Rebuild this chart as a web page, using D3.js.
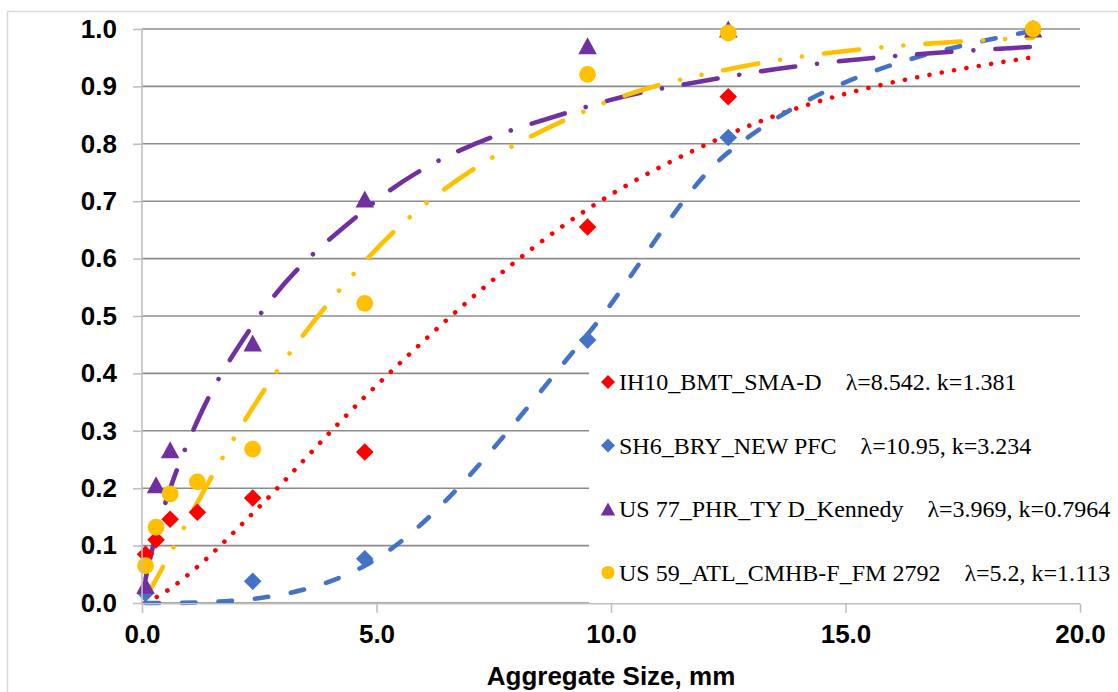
<!DOCTYPE html>
<html>
<head>
<meta charset="utf-8">
<script src="https://cdn.jsdelivr.net/npm/d3@7"></script>
<style>
  html, body { margin: 0; padding: 0; background: #fff; }
  svg { display: block; }
</style>
</head>
<body>
<svg id="chart" width="1118" height="692"></svg>
<script>
// ---------------- data ----------------
const sieves = [0.075, 0.3, 0.6, 1.18, 2.36, 4.75, 9.5, 12.5, 19];

// measured passing fractions (markers); null = no point plotted
const ih10 = [0.085, 0.110, 0.146, 0.158, 0.183, 0.263, 0.655, 0.882, 1.0];
const sh6  = [0.017, null, null, null, 0.038, 0.077, 0.458, 0.811, 1.0];
const us77 = [0.031, 0.206, 0.267, null, 0.453, 0.704, 0.971, 1.0, 1.0];
const us59 = [0.065, 0.132, 0.190, 0.211, 0.268, 0.522, 0.921, 0.993, 1.0];

// fitted (Weibull) curve values at the same sizes
const fitIh10 = [0.001, 0.010, 0.025, 0.063, 0.156, 0.359, 0.686, 0.816, 0.951];
const fitSh6  = [0.000, 0.000, 0.000, 0.001, 0.007, 0.065, 0.468, 0.785, 0.997];
const fitUs77 = [0.042, 0.120, 0.199, 0.317, 0.484, 0.685, 0.865, 0.917, 0.969];
const fitUs59 = [0.009, 0.041, 0.086, 0.175, 0.340, 0.595, 0.859, 0.930, 0.985];

const seriesNames = [
  "IH10_BMT_SMA-D",
  "SH6_BRY_NEW PFC",
  "US 77_PHR_TY D_Kennedy",
  "US 59_ATL_CMHB-F_FM 2792"
];
const seriesParams = [
  "λ=8.542. k=1.381",
  "λ=10.95, k=3.234",
  "λ=3.969, k=0.7964",
  "λ=5.2, k=1.113"
];
const xTicks = [0, 5, 10, 15, 20];
const yTicks = [0, 0.1, 0.2, 0.3, 0.4, 0.5, 0.6, 0.7, 0.8, 0.9, 1.0];
const xTitle = "Aggregate Size, mm";

// ---------------- styles ----------------
const colors = ["#ff0000", "#4472c4", "#7030a0", "#ffc000"];
const dashes = ["0.01 12.5", "13.5 23", "34.5 22 0.01 22", "35.5 22.25 0.01 22 0.01 22.25"];
const markerKinds = ["diamond", "diamond", "triangle", "circle"];

// ---------------- layout ----------------
const svg = d3.select("#chart");
const X0 = 142, X1 = 1080, Y0 = 603, Y1 = 29;
const x = d3.scaleLinear().domain([0, 20]).range([X0, X1]);
const y = d3.scaleLinear().domain([0, 1]).range([Y0, Y1]);

svg.append("rect").attr("width", 1118).attr("height", 692).attr("fill", "#fff");
// chart area border
svg.append("rect").attr("x", 7.5).attr("y", 11.5).attr("width", 1130).attr("height", 700)
  .attr("fill", "none").attr("stroke", "#d9d9d9").attr("stroke-width", 1.5);

// gridlines
svg.append("g").selectAll("line").data(yTicks).join("line")
  .attr("x1", X0).attr("x2", X1)
  .attr("y1", d => y(d)).attr("y2", d => y(d))
  .attr("stroke", "#8c8c8c").attr("stroke-width", 1.6);

// curves
const line = d3.line()
  .x(d => x(d[0])).y(d => y(d[1]))
  .curve(d3.curveMonotoneX);
const fits = [fitIh10, fitSh6, fitUs77, fitUs59];
fits.forEach((f, i) => {
  svg.append("path")
    .attr("d", line(sieves.map((s, j) => [s, f[j]])))
    .attr("fill", "none")
    .attr("stroke", colors[i])
    .attr("stroke-width", 4.6)
    .attr("stroke-linecap", "round")
    .attr("stroke-linejoin", "round")
    .attr("stroke-dasharray", dashes[i]);
});

// marker shapes
function triangleType(w, h) {
  return { draw(ctx) { ctx.moveTo(0, -h / 2); ctx.lineTo(w / 2, h / 2); ctx.lineTo(-w / 2, h / 2); ctx.closePath(); } };
}
function diamondType(r) {
  return { draw(ctx) { ctx.moveTo(0, -r); ctx.lineTo(r, 0); ctx.lineTo(0, r); ctx.lineTo(-r, 0); ctx.closePath(); } };
}
function markerPath(kind, big) {
  if (kind === "diamond") return d3.symbol(diamondType(big ? 8.8 : 7))();
  if (kind === "triangle") return d3.symbol(triangleType(big ? 18.5 : 14.5, big ? 17 : 13))();
  return d3.symbol(d3.symbolCircle, Math.PI * Math.pow(big ? 8.4 : 6.6, 2))();
}

const meas = [ih10, sh6, us77, us59];
meas.forEach((m, i) => {
  const pts = sieves.map((s, j) => [s, m[j]]).filter(d => d[1] !== null);
  svg.append("g").selectAll("path").data(pts).join("path")
    .attr("d", markerPath(markerKinds[i], true))
    .attr("transform", d => `translate(${x(d[0])},${y(d[1])})`)
    .attr("fill", colors[i]);
});

// legend
const leg = svg.append("g");
leg.append("rect").attr("x", 589).attr("y", 355).attr("width", 529).attr("height", 248.5).attr("fill", "#fff");
const legY = [382, 445.5, 509, 572.5];
seriesNames.forEach((n, i) => {
  leg.append("path").attr("d", markerPath(markerKinds[i], false))
    .attr("transform", `translate(608,${legY[i]})`).attr("fill", colors[i]);
  leg.append("text")
    .attr("x", 619).attr("y", legY[i]).attr("dy", "0.35em")
    .attr("font-family", "'Liberation Serif', 'Times New Roman', serif")
    .attr("font-size", 24).attr("fill", "#000")
    .style("white-space", "pre")
    .text(n + "    " + seriesParams[i]);
});

// axes
const axisColor = "#bfbfbf";
const gy = svg.append("g").attr("transform", `translate(${X0},0)`)
  .call(d3.axisLeft(y).tickValues(yTicks).tickFormat(d3.format(".1f")).tickSize(9).tickPadding(16));
const gx = svg.append("g").attr("transform", `translate(0,${Y0 + 0.8})`)
  .call(d3.axisBottom(x).tickValues(xTicks).tickFormat(d3.format(".1f")).tickSize(9).tickPadding(12));
[gx, gy].forEach(g => {
  g.select(".domain").attr("stroke", axisColor).attr("stroke-width", 1.6);
  g.selectAll(".tick line").attr("stroke", axisColor).attr("stroke-width", 1.6);
  g.selectAll(".tick text")
    .attr("font-family", "'Liberation Sans', Arial, sans-serif")
    .attr("font-weight", "bold").attr("font-size", 26).attr("fill", "#000");
});
gy.select(".domain").attr("d", `M0,${Y0}V${Y1}`);
gx.select(".domain").attr("d", `M${X0},0H${X1}`);

svg.append("text")
  .attr("x", (X0 + X1) / 2).attr("y", 685)
  .attr("text-anchor", "middle")
  .attr("font-family", "'Liberation Sans', Arial, sans-serif")
  .attr("font-weight", "bold").attr("font-size", 26).attr("fill", "#000")
  .text(xTitle);
</script>
</body>
</html>
